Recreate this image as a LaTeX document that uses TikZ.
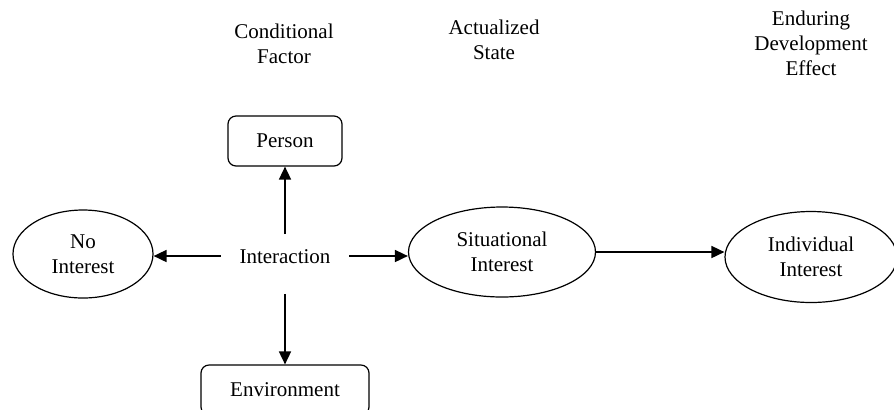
\documentclass[tikz,border=0pt]{standalone}
\usepackage{fontspec}
\setmainfont{Liberation Serif}
\usetikzlibrary{shapes.geometric,arrows.meta}

\begin{document}
\begin{tikzpicture}[x=0.5pt, y=-0.5pt, line width=0.85pt,
    font=\fontsize{10.5}{12.5}\selectfont,
    arr/.style={-{Triangle[length=6.5pt,width=6pt]}},
    factor/.style={draw, line width=0.6pt, rounded corners=4pt, inner sep=0pt},
    state/.style={draw, line width=0.6pt, ellipse, inner sep=0pt, align=center},
    head/.style={align=center}];

    \clip (0,0) rectangle (894,409);

    % column heads
    \node[head] (hcond) at (284,44) {Conditional\\Factor};
    \node[head] (hact) at (494,40) {Actualized\\State};
    \node[head] (hend) at (811,43) {Enduring\\Development\\Effect};

    % conditional factors
    \node[factor, minimum width=57pt, minimum height=25pt] (person) at (285,141) {Person};
    \node[factor, minimum width=84pt, minimum height=25pt] (env) at (285,390) {Environment};
    \node[minimum width=63.5pt, minimum height=22pt, inner sep=0pt] (inter) at (285,257) {Interaction};

    % states
    \node[state, minimum width=70pt, minimum height=44pt] (no) at (83,254) {No\\Interest};
    \node[state, minimum width=93.5pt, minimum height=45pt] (sit) at (502,252) {Situational\\Interest};
    \node[state, minimum width=86pt, minimum height=45.5pt] (ind) at (811,257) {Individual\\Interest};

    % arrows
    \draw[arr] (inter.north) -- (person.south);
    \draw[arr] ([yshift=-7pt]inter.south) -- (env.north);
    \draw[arr] ([yshift=0.5pt]inter.west) -- ([yshift=0.5pt]inter.west -| no.east);
    \draw[arr] ([yshift=0.5pt]inter.east) -- ([yshift=0.5pt]inter.east -| sit.west);
    \draw[arr] (sit.east) -- (sit.east -| ind.west);
\end{tikzpicture}
\end{document}
